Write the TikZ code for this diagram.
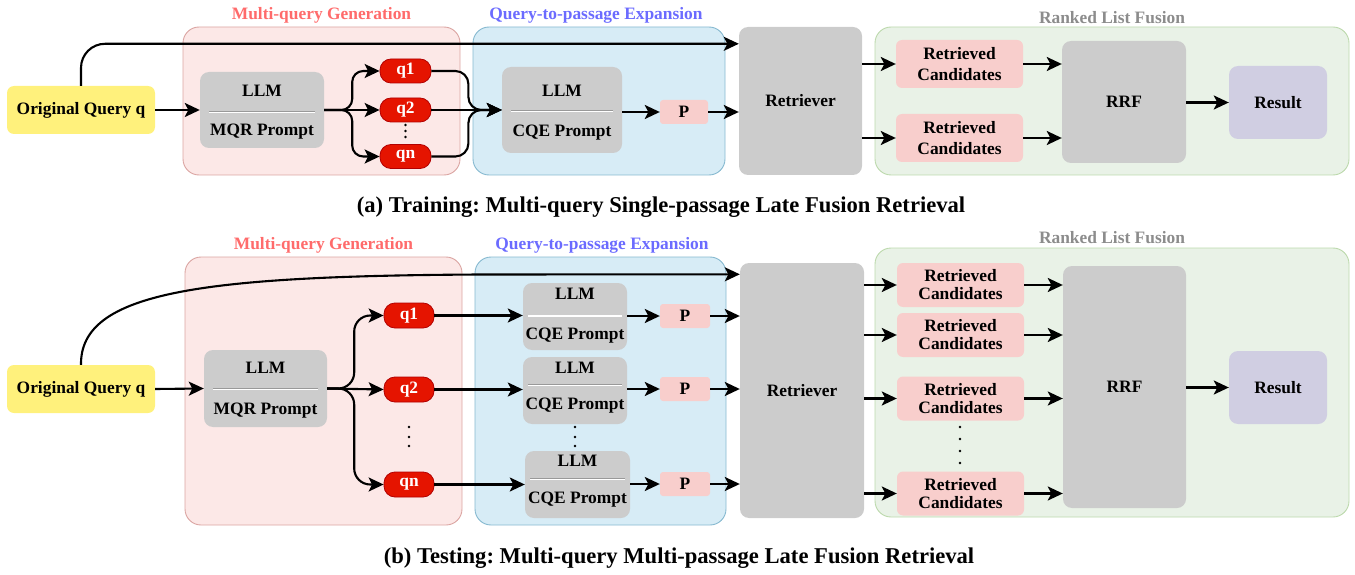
\documentclass[tikz,border=0pt]{standalone}
\usepackage{fontspec}
\setmainfont{Liberation Serif}
\usetikzlibrary{arrows.meta,calc}
\definecolor{pinkF}{HTML}{FCE8E7}
\definecolor{pinkS}{HTML}{DBA5A2}
\definecolor{blueF}{HTML}{D7ECF6}
\definecolor{blueS}{HTML}{86B9D0}
\definecolor{greenF}{HTML}{E9F2E7}
\definecolor{greenS}{HTML}{BCD9AC}
\definecolor{grayF}{HTML}{CCCCCC}
\definecolor{yelF}{HTML}{FFF17C}
\definecolor{pF}{HTML}{F8CECC}
\definecolor{resF}{HTML}{D0CEE2}
\definecolor{qF}{HTML}{E51400}
\definecolor{qS}{HTML}{B20000}
\definecolor{titP}{HTML}{FF6B6B}
\definecolor{titB}{HTML}{6B6BFF}
\definecolor{titG}{HTML}{8C8C8C}
\tikzset{
  grp/.style={draw, rounded corners=16, line width=0.9, inner sep=0},
  gbox/.style={fill=grayF, rounded corners=9, inner sep=0},
  ybox/.style={fill=yelF, rounded corners=7, inner sep=0},
  pbox/.style={fill=pF, rounded corners=3, inner sep=0},
  rcbox/.style={fill=pF, rounded corners=6, inner sep=0, align=center},
  resbox/.style={fill=resF, rounded corners=9, inner sep=0},
  qbox/.style={fill=qF, draw=qS, line width=0.8, rounded corners=11, inner sep=0, text=white},
  ttl/.style={inner sep=0},
  arr/.style={line width=2.1, -{Stealth[length=15pt,width=14pt,inset=3.5pt]}},
  divline/.style={line width=1.6, white},
  divshade/.style={line width=0.6, black!40},
  dotf/.style={fill=black},
  capt/.style={inner sep=0, font=\fontsize{22.6}{25}\selectfont\bfseries\frenchspacing}
}
\begin{document}
\begin{tikzpicture}[x=1pt,y=-1pt,font=\fontsize{17.4}{19}\selectfont\bfseries]
\useasboundingbox (0,0) rectangle (1355,575);

% ================= TOP PANEL =================
\node[grp, draw=pinkS, fill=pinkF, minimum width=277, minimum height=148] (g1a) at (321.5,101) {};
\node[ttl, text=titP] (t1a) at (321.5,15) {Multi-query Generation};
\node[grp, draw=blueS, fill=blueF, minimum width=252, minimum height=148] (g2a) at (599,101) {};
\node[ttl, text=titB] (t2a) at (596,15) {Query-to-passage Expansion};
\node[grp, draw=greenS, fill=greenF, minimum width=474, minimum height=148] (g3a) at (1112,101) {};
\node[ttl, text=titG] (t3a) at (1112,18) {Ranked List Fusion};

\node[ybox, minimum width=148, minimum height=48] (oqa) at (81,110) {Original Query q};
\node[gbox, minimum width=124, minimum height=76] (mqra) at (262,110) {};
\node (mqra1) at (262,91) {LLM};
\node (mqra2) at (262,132) {MQR Prompt};
\draw[divshade] (209,111.2) -- (315,111.2);
\draw[divline] (209,112.5) -- (315,112.5);

\node[qbox, minimum width=51, minimum height=24] (q1a) at (405.5,71) {q1};
\node[qbox, minimum width=51, minimum height=24] (q2a) at (405.5,110) {q2};
\node[qbox, minimum width=51, minimum height=24] (qna) at (405.5,156.5) {qn};
\fill[dotf] (405.5,125) circle (1.4) (405.5,131) circle (1.4) (405.5,137) circle (1.4);

\node[gbox, minimum width=120, minimum height=86] (cqea) at (562,110) {};
\node (cqea1) at (562,91) {LLM};
\node (cqea2) at (562,133) {CQE Prompt};
\draw[divshade] (511,110.2) -- (613,110.2);
\draw[divline] (511,111.5) -- (613,111.5);

\node[pbox, minimum width=48, minimum height=24] (pa) at (684,112) {P};
\node[gbox, minimum width=123, minimum height=148] (reta) at (800.5,101) {Retriever};
\node[rcbox, minimum width=127, minimum height=48, font=\fontsize{17.4}{21}\selectfont\bfseries] (rc1a) at (959.5,64) {Retrieved\\Candidates};
\node[rcbox, minimum width=127, minimum height=48, font=\fontsize{17.4}{21}\selectfont\bfseries] (rc2a) at (959.5,138) {Retrieved\\Candidates};
\node[gbox, minimum width=124, minimum height=122] (rrfa) at (1124,102) {RRF};
\node[resbox, minimum width=98, minimum height=73] (resa) at (1278,102.5) {Result};

\draw[arr, rounded corners=24] (oqa.north) |- ($(reta.north west)+(0,17)$);
\draw[arr] (oqa.east) -- (mqra.west);
\draw[arr, rounded corners=11] (mqra.east) -- ++(28,0) |- (q1a.west);
\draw[arr] (mqra.east) -- (q2a.west);
\draw[arr, rounded corners=11] (mqra.east) -- ++(28,0) |- (qna.west);
\draw[arr, rounded corners=13] (q1a.east) -- ++(37,0) |- (cqea.west);
\draw[arr] (q2a.east) -- (cqea.west);
\draw[arr, rounded corners=13] (qna.east) -- ++(37,0) |- (cqea.west);
\draw[arr] (cqea.east |- pa.west) -- (pa.west);
\draw[arr] (pa.east) -- (pa.east -| reta.west);
\draw[arr] (reta.east |- rc1a.west) -- (rc1a.west);
\draw[arr] (reta.east |- rc2a.west) -- (rc2a.west);
\draw[arr] (rc1a.east) -- (rc1a.east -| rrfa.west);
\draw[arr] (rc2a.east) -- (rc2a.east -| rrfa.west);
\draw[arr] (rrfa.east |- resa.west) -- (resa.west);

\node[capt] (capa) at (661,207) {(a) Training: Multi-query Single-passage Late Fusion Retrieval};

% ================= BOTTOM PANEL =================
\node[grp, draw=pinkS, fill=pinkF, minimum width=277, minimum height=268] (g1b) at (323.5,391) {};
\node[ttl, text=titP] (t1b) at (323.5,245) {Multi-query Generation};
\node[grp, draw=blueS, fill=blueF, minimum width=251, minimum height=268] (g2b) at (600.5,391) {};
\node[ttl, text=titB] (t2b) at (602,245) {Query-to-passage Expansion};
\node[grp, draw=greenS, fill=greenF, minimum width=474, minimum height=269] (g3b) at (1112,382.5) {};
\node[ttl, text=titG] (t3b) at (1112,238) {Ranked List Fusion};

\node[ybox, minimum width=148, minimum height=48] (oqb) at (81,389) {Original Query q};
\node[gbox, minimum width=123, minimum height=77] (mqrb) at (265.5,388.5) {};
\node (mqrb1) at (265.5,368) {LLM};
\node (mqrb2) at (265.5,411) {MQR Prompt};
\draw[divshade] (213,388.2) -- (318,388.2);
\draw[divline] (213,389.5) -- (318,389.5);

\node[qbox, minimum width=50, minimum height=25] (q1b) at (409,315.5) {q1};
\node[qbox, minimum width=50, minimum height=25] (q2b) at (409,389.5) {q2};
\node[qbox, minimum width=50, minimum height=25] (qnb) at (409,484.5) {qn};
\fill[dotf] (409,427) circle (1.4) (409,437) circle (1.4) (409,446) circle (1.4);

\node[gbox, minimum width=104, minimum height=67] (cqe1b) at (575,316.5) {};
\node (cqe1b1) at (575,294) {LLM};
\node (cqe1b2) at (575,336) {CQE Prompt};
\draw[divshade] (528,314.8) -- (622,314.8);
\draw[divline] (528,316) -- (622,316);
\node[gbox, minimum width=104, minimum height=67] (cqe2b) at (575,390.5) {};
\node (cqe2b1) at (575,368) {LLM};
\node (cqe2b2) at (575,406) {CQE Prompt};
\draw[divshade] (528,384.2) -- (622,384.2);
\draw[divline] (528,385.5) -- (622,385.5);
\fill[dotf] (575,427) circle (1.4) (575,437) circle (1.4) (575,446) circle (1.4);
\node[gbox, minimum width=105, minimum height=67] (cqe3b) at (577.5,484.5) {};
\node (cqe3b1) at (577.5,461) {LLM};
\node (cqe3b2) at (577.5,500) {CQE Prompt};
\draw[divshade] (530,478.2) -- (625,478.2);
\draw[divline] (530,479.5) -- (625,479.5);

\node[pbox, minimum width=50, minimum height=24] (p1b) at (685,316) {P};
\node[pbox, minimum width=50, minimum height=24] (p2b) at (685,389) {P};
\node[pbox, minimum width=50, minimum height=24] (p3b) at (685,484) {P};

\node[gbox, minimum width=124, minimum height=255] (retb) at (802,390.5) {Retriever};

\node[rcbox, minimum width=127, minimum height=44, font=\fontsize{17.4}{18}\selectfont\bfseries] (rc1b) at (960.5,285) {Retrieved\\Candidates};
\node[rcbox, minimum width=127, minimum height=44, font=\fontsize{17.4}{18}\selectfont\bfseries] (rc2b) at (960.5,335) {Retrieved\\Candidates};
\node[rcbox, minimum width=127, minimum height=44, font=\fontsize{17.4}{18}\selectfont\bfseries] (rc3b) at (960.5,398.5) {Retrieved\\Candidates};
\node[rcbox, minimum width=127, minimum height=44, font=\fontsize{17.4}{18}\selectfont\bfseries] (rc4b) at (960.5,493.5) {Retrieved\\Candidates};
\fill[dotf] (960,427) circle (1.4) (960,439) circle (1.4) (960,451) circle (1.4) (960,463) circle (1.4);

\node[gbox, minimum width=123, minimum height=242] (rrfb) at (1124.5,387) {RRF};
\node[resbox, minimum width=98, minimum height=73] (resb) at (1278,387.5) {Result};

\draw[arr] (oqb.north) .. controls (80,292) and (200,276) .. (480,274.5) -- ($(retb.north west)+(0,11.5)$);
\draw[arr] (oqb.east) -- (mqrb.west);
\draw[arr, rounded corners=16] (mqrb.east) -- ++(27,0) |- (q1b.west);
\draw[arr] (mqrb.east) -- (q2b.west);
\draw[arr, rounded corners=16] (mqrb.east) -- ++(27,0) |- (qnb.west);
\draw[arr] (q1b.east) -- (q1b.east -| cqe1b.west);
\draw[arr] (q2b.east) -- (q2b.east -| cqe2b.west);
\draw[arr] (qnb.east) -- (qnb.east -| cqe3b.west);
\draw[arr] (cqe1b.east |- p1b.west) -- (p1b.west);
\draw[arr] (cqe2b.east |- p2b.west) -- (p2b.west);
\draw[arr] (cqe3b.east |- p3b.west) -- (p3b.west);
\draw[arr] (p1b.east) -- (p1b.east -| retb.west);
\draw[arr] (p2b.east) -- (p2b.east -| retb.west);
\draw[arr] (p3b.east) -- (p3b.east -| retb.west);
\draw[arr] (retb.east |- rc1b.west) -- (rc1b.west);
\draw[arr] (retb.east |- rc2b.west) -- (rc2b.west);
\draw[arr] (retb.east |- rc3b.west) -- (rc3b.west);
\draw[arr] (retb.east |- rc4b.west) -- (rc4b.west);
\draw[arr] (rc1b.east) -- (rc1b.east -| rrfb.west);
\draw[arr] (rc2b.east) -- (rc2b.east -| rrfb.west);
\draw[arr] (rc3b.east) -- (rc3b.east -| rrfb.west);
\draw[arr] (rc4b.east) -- (rc4b.east -| rrfb.west);
\draw[arr] (rrfb.east |- resb.west) -- (resb.west);

\node[capt] (capb) at (679,558) {(b) Testing: Multi-query Multi-passage Late Fusion Retrieval};
\end{tikzpicture}
\end{document}
